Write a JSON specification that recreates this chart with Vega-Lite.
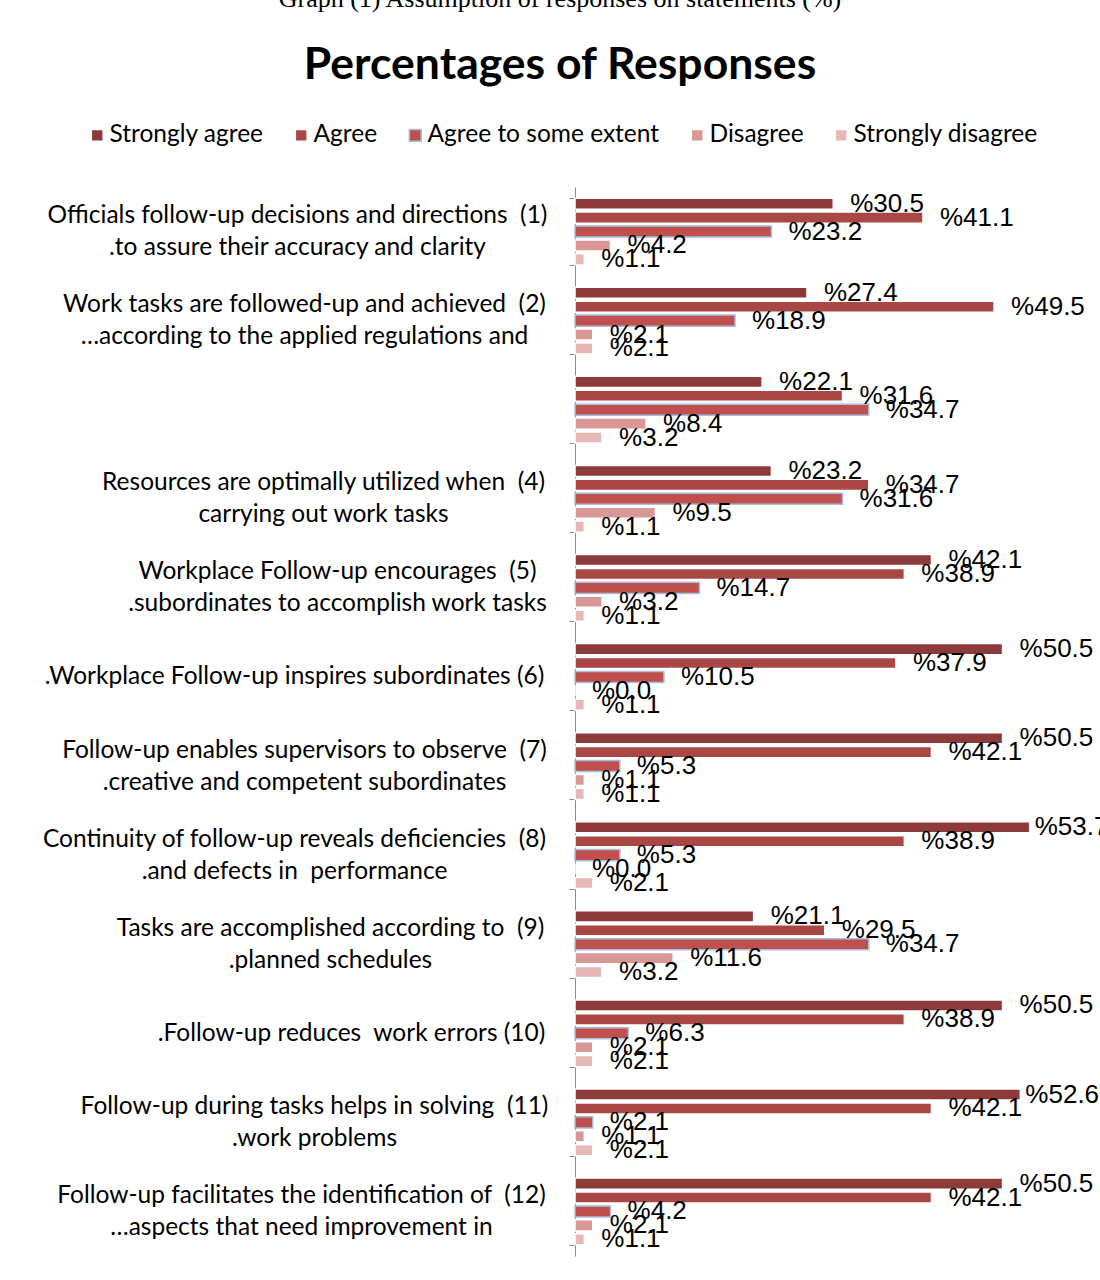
{
  "$schema": "https://vega.github.io/schema/vega-lite/v6.json",
  "width": 508,
  "height": 1069,
  "autosize": {"type": "none"},
  "padding": {"left": 575, "top": 187, "right": 17, "bottom": 24},
  "background": "white",
  "title": {
    "text": "Graph (1) Assumption of responses on statements (%)",
    "subtitle": "Percentages of Responses",
    "anchor": "middle",
    "frame": "group",
    "dx": -269,
    "font": "Liberation Serif",
    "fontSize": 26,
    "fontWeight": "normal",
    "color": "black",
    "subtitleFont": "Lato",
    "subtitleFontSize": 44.5,
    "subtitleFontWeight": "bold",
    "subtitleColor": "black",
    "subtitlePadding": 32,
    "offset": 36
  },
  "data": {
    "values": [
      {"q": 1, "r": "Strongly agree", "v": 30.5},
      {"q": 1, "r": "Agree", "v": 41.1},
      {"q": 1, "r": "Agree to some extent", "v": 23.2},
      {"q": 1, "r": "Disagree", "v": 4.2},
      {"q": 1, "r": "Strongly disagree", "v": 1.1},
      {"q": 2, "r": "Strongly agree", "v": 27.4},
      {"q": 2, "r": "Agree", "v": 49.5},
      {"q": 2, "r": "Agree to some extent", "v": 18.9},
      {"q": 2, "r": "Disagree", "v": 2.1},
      {"q": 2, "r": "Strongly disagree", "v": 2.1},
      {"q": 3, "r": "Strongly agree", "v": 22.1},
      {"q": 3, "r": "Agree", "v": 31.6},
      {"q": 3, "r": "Agree to some extent", "v": 34.7},
      {"q": 3, "r": "Disagree", "v": 8.4},
      {"q": 3, "r": "Strongly disagree", "v": 3.2},
      {"q": 4, "r": "Strongly agree", "v": 23.2},
      {"q": 4, "r": "Agree", "v": 34.7},
      {"q": 4, "r": "Agree to some extent", "v": 31.6},
      {"q": 4, "r": "Disagree", "v": 9.5},
      {"q": 4, "r": "Strongly disagree", "v": 1.1},
      {"q": 5, "r": "Strongly agree", "v": 42.1},
      {"q": 5, "r": "Agree", "v": 38.9},
      {"q": 5, "r": "Agree to some extent", "v": 14.7},
      {"q": 5, "r": "Disagree", "v": 3.2},
      {"q": 5, "r": "Strongly disagree", "v": 1.1},
      {"q": 6, "r": "Strongly agree", "v": 50.5},
      {"q": 6, "r": "Agree", "v": 37.9},
      {"q": 6, "r": "Agree to some extent", "v": 10.5},
      {"q": 6, "r": "Disagree", "v": 0.0},
      {"q": 6, "r": "Strongly disagree", "v": 1.1},
      {"q": 7, "r": "Strongly agree", "v": 50.5},
      {"q": 7, "r": "Agree", "v": 42.1},
      {"q": 7, "r": "Agree to some extent", "v": 5.3},
      {"q": 7, "r": "Disagree", "v": 1.1},
      {"q": 7, "r": "Strongly disagree", "v": 1.1},
      {"q": 8, "r": "Strongly agree", "v": 53.7},
      {"q": 8, "r": "Agree", "v": 38.9},
      {"q": 8, "r": "Agree to some extent", "v": 5.3},
      {"q": 8, "r": "Disagree", "v": 0.0},
      {"q": 8, "r": "Strongly disagree", "v": 2.1},
      {"q": 9, "r": "Strongly agree", "v": 21.1},
      {"q": 9, "r": "Agree", "v": 29.5},
      {"q": 9, "r": "Agree to some extent", "v": 34.7},
      {"q": 9, "r": "Disagree", "v": 11.6},
      {"q": 9, "r": "Strongly disagree", "v": 3.2},
      {"q": 10, "r": "Strongly agree", "v": 50.5},
      {"q": 10, "r": "Agree", "v": 38.9},
      {"q": 10, "r": "Agree to some extent", "v": 6.3},
      {"q": 10, "r": "Disagree", "v": 2.1},
      {"q": 10, "r": "Strongly disagree", "v": 2.1},
      {"q": 11, "r": "Strongly agree", "v": 52.6},
      {"q": 11, "r": "Agree", "v": 42.1},
      {"q": 11, "r": "Agree to some extent", "v": 2.1},
      {"q": 11, "r": "Disagree", "v": 1.1},
      {"q": 11, "r": "Strongly disagree", "v": 2.1},
      {"q": 12, "r": "Strongly agree", "v": 50.5},
      {"q": 12, "r": "Agree", "v": 42.1},
      {"q": 12, "r": "Agree to some extent", "v": 4.2},
      {"q": 12, "r": "Disagree", "v": 2.1},
      {"q": 12, "r": "Strongly disagree", "v": 1.1}
    ]
  },
  "encoding": {
    "y": {
      "field": "q",
      "type": "ordinal",
      "scale": {"paddingInner": 0.25, "paddingOuter": 0.125},
      "axis": {
        "title": null,
        "grid": false,
        "domainColor": "#8a8a8a",
        "tickColor": "#8a8a8a",
        "tickSize": 6,
        "tickBand": "extent",
        "labelAlign": "center",
        "labelBaseline": "middle",
        "labelPadding": {
          "condition": [
            {"test": "datum.value == 1", "value": 272},
            {"test": "datum.value == 4", "value": 246},
            {"test": "datum.value == 5", "value": 232},
            {"test": "datum.value == 6", "value": 275},
            {"test": "datum.value == 8", "value": 275},
            {"test": "datum.value == 9", "value": 239},
            {"test": "datum.value == 10", "value": 218},
            {"test": "datum.value == 11", "value": 255},
            {"test": "datum.value == 12", "value": 268}
          ],
          "value": 265
        },
        "labelOffset": {"condition": {"test": "datum.value == 3 || datum.value == 6 || datum.value == 10", "value": 0}, "value": -16},
        "labelFont": "Lato",
        "labelFontSize": 24.5,
        "labelColor": "black",
        "labelLineHeight": 32,
        "labelLimit": 700,
        "labelOverlap": false,
        "labelFlush": false,
        "labelExpr": "[['Officials follow-up decisions and directions\u00a0 (1)', '.to assure their accuracy and clarity'], ['Work tasks are followed-up and achieved\u00a0 (2)', '…according to the applied regulations and'], [' '], ['Resources are optimally utilized when\u00a0 (4)', 'carrying out work tasks'], ['Workplace Follow-up encourages\u00a0 (5)', '.subordinates to accomplish work tasks'], ['.Workplace Follow-up inspires subordinates (6)'], ['Follow-up enables supervisors to observe\u00a0 (7)', '.creative and competent subordinates'], ['Continuity of follow-up reveals deficiencies\u00a0 (8)', '.and defects in\u00a0 performance'], ['Tasks are accomplished according to\u00a0 (9)', '.planned schedules'], ['.Follow-up reduces\u00a0 work errors (10)'], ['Follow-up during tasks helps in solving\u00a0 (11)', '.work problems'], ['Follow-up facilitates the identification of\u00a0 (12)', '…aspects that need improvement in']][datum.value - 1]"
      }
    },
    "yOffset": {
      "field": "r",
      "type": "nominal",
      "sort": ["Strongly agree", "Agree", "Agree to some extent", "Disagree", "Strongly disagree"],
      "scale": {"paddingInner": 0.2}
    },
    "x": {
      "field": "v",
      "type": "quantitative",
      "scale": {"domain": [0, 60]},
      "axis": null
    }
  },
  "layer": [
    {
      "mark": {"type": "bar", "strokeWidth": 1.5},
      "encoding": {
        "color": {
          "field": "r",
          "type": "nominal",
          "sort": ["Strongly agree", "Agree", "Agree to some extent", "Disagree", "Strongly disagree"],
          "scale": {
            "domain": ["Strongly agree", "Agree", "Agree to some extent", "Disagree", "Strongly disagree"],
            "range": ["#8C3A3A", "#A94745", "#C0504D", "#D99795", "#E6B9B8"]
          },
          "legend": {
            "title": null,
            "orient": "none",
            "legendX": -490,
            "legendY": -64,
            "direction": "horizontal",
            "symbolType": "square",
            "symbolSize": 140,
            "symbolStrokeWidth": 1.5,
            "labelFont": "Lato",
            "labelFontSize": 24.5,
            "labelColor": "black",
            "labelOffset": 0,
            "columnPadding": 25,
            "labelLimit": 400
          }
        },
        "stroke": {
          "field": "r",
          "type": "nominal",
          "sort": ["Strongly agree", "Agree", "Agree to some extent", "Disagree", "Strongly disagree"],
          "scale": {
            "domain": ["Strongly agree", "Agree", "Agree to some extent", "Disagree", "Strongly disagree"],
            "range": ["white", "white", "#A7BFDE", "white", "white"]
          }
        }
      }
    },
    {
      "transform": [{"filter": "datum.v < 52"}],
      "mark": {"type": "text", "align": "left", "baseline": "middle", "dx": 17, "font": "Liberation Sans", "fontSize": 26, "color": "black"},
      "encoding": {
        "text": {"field": "v", "type": "quantitative", "format": "$.1f"}
      }
    },
    {
      "transform": [{"filter": "datum.v >= 52"}],
      "mark": {"type": "text", "align": "left", "baseline": "middle", "dx": 5, "font": "Liberation Sans", "fontSize": 26, "color": "black"},
      "encoding": {
        "text": {"field": "v", "type": "quantitative", "format": "$.1f"}
      }
    }
  ],
  "config": {
    "view": {"stroke": null},
    "locale": {
      "number": {"decimal": ".", "thousands": ",", "grouping": [3], "currency": ["%", ""]}
    }
  }
}
